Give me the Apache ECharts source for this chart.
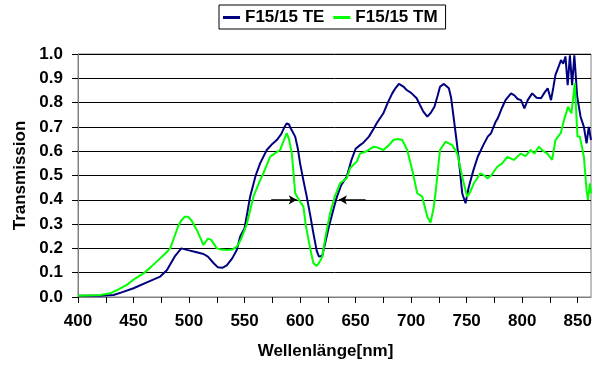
<!DOCTYPE html>
<html>
<head>
<meta charset="utf-8">
<script src="https://cdn.jsdelivr.net/npm/echarts@6/dist/echarts.min.js"></script>
<style>
  html, body { margin: 0; padding: 0; background: #fff; }
  #chart { width: 603px; height: 365px; }
</style>
</head>
<body>
<div id="chart"></div>
<script>
var seriesNames = ["F15/15 TE", "F15/15 TM"];

// [Wellenlänge nm, Transmission]
var teData = [
  [400, 0.005], [420, 0.005], [432, 0.008], [440, 0.02], [450, 0.036], [462, 0.06],
  [474, 0.084], [480, 0.11], [487, 0.166], [493, 0.2], [499, 0.193], [506, 0.185],
  [513, 0.177], [517, 0.166], [522, 0.14], [526, 0.122], [530, 0.12], [534, 0.13],
  [539, 0.16], [543, 0.193], [546, 0.248], [550, 0.283], [555, 0.413], [560, 0.5],
  [564, 0.55], [570, 0.605], [575, 0.63], [579, 0.646], [583, 0.67], [586, 0.7],
  [588, 0.715], [590, 0.71], [592, 0.69], [595.6, 0.66], [598, 0.61], [600, 0.55],
  [603, 0.48], [606, 0.413], [609, 0.34], [612, 0.262], [615, 0.19], [617, 0.166],
  [620, 0.17], [623, 0.23], [626, 0.29], [630, 0.36], [633, 0.41], [637, 0.46],
  [642, 0.495], [646, 0.56], [650, 0.61], [654, 0.625], [657, 0.635], [662, 0.66],
  [666, 0.69], [669, 0.715], [675, 0.756], [679, 0.8], [683, 0.838], [686, 0.86],
  [689, 0.877], [693, 0.866], [696, 0.852], [700, 0.84], [705, 0.818], [708, 0.79],
  [711, 0.763], [714.6, 0.742], [718, 0.76], [721, 0.783], [724, 0.83], [726, 0.865],
  [729.5, 0.877], [734, 0.859], [736, 0.82], [738.6, 0.728], [741, 0.64], [743, 0.564],
  [746, 0.427], [749, 0.386], [752, 0.454], [756, 0.52], [760, 0.577], [765, 0.625],
  [769, 0.66], [772, 0.674], [776, 0.72], [778, 0.735], [782, 0.78], [785, 0.81],
  [790, 0.838], [793, 0.83], [796, 0.815], [799, 0.81], [802, 0.776], [805, 0.81],
  [809, 0.838], [813, 0.82], [817, 0.818], [820, 0.84], [823, 0.859], [826, 0.81],
  [828, 0.86], [830, 0.914], [833, 0.95], [835, 0.975], [837, 0.96], [839, 0.99],
  [841, 0.872], [843, 0.995], [845, 0.872], [847, 0.995], [849.6, 0.824], [852.6, 0.742],
  [855.6, 0.7], [858, 0.632], [860, 0.7], [862, 0.646]
];

var tmData = [
  [400, 0.005], [420, 0.008], [429, 0.015], [436, 0.03], [444, 0.05], [451, 0.075],
  [459, 0.097], [466, 0.125], [474, 0.159], [479, 0.18], [483, 0.2], [487, 0.25],
  [490, 0.289], [493, 0.315], [496, 0.33], [499, 0.33], [502, 0.317], [507, 0.276],
  [510, 0.245], [513, 0.214], [517, 0.24], [520, 0.235], [525, 0.2], [529, 0.195],
  [534, 0.193], [539, 0.195], [543, 0.207], [547, 0.24], [552, 0.3], [558, 0.413],
  [563, 0.47], [567, 0.51], [573, 0.577], [577, 0.59], [582, 0.605], [585, 0.64],
  [588, 0.674], [590, 0.65], [592.6, 0.59], [595.6, 0.427], [600, 0.392], [603, 0.372],
  [605, 0.3], [607.6, 0.235], [610, 0.18], [612, 0.139], [615, 0.128], [617, 0.14],
  [620, 0.166], [623, 0.25], [627, 0.344], [631, 0.41], [636, 0.468], [642, 0.488],
  [645, 0.53], [651, 0.557], [654, 0.59], [660, 0.6], [666, 0.618], [670, 0.615],
  [675, 0.605], [680, 0.625], [684, 0.646], [688, 0.65], [692, 0.646], [696.5, 0.605],
  [701, 0.523], [705.5, 0.427], [710, 0.413], [714.6, 0.33], [717.5, 0.306], [720, 0.36],
  [722, 0.427], [726, 0.605], [731, 0.639], [737, 0.625], [741.6, 0.59], [746, 0.495],
  [750.5, 0.413], [753, 0.43], [756.5, 0.468], [762.5, 0.509], [766, 0.5], [768.6, 0.488],
  [772, 0.5], [777.6, 0.536], [782, 0.55], [786.6, 0.577], [792.6, 0.564], [798.6, 0.59],
  [803, 0.58], [807.7, 0.605], [811, 0.59], [815, 0.618], [819, 0.6], [822.7, 0.59],
  [827, 0.564], [830, 0.646], [834.7, 0.674], [837.7, 0.728], [841.3, 0.783], [844.4, 0.756],
  [847.4, 0.88], [849.8, 0.66], [852, 0.66], [855.6, 0.577], [858, 0.44], [859.3, 0.4],
  [861, 0.468], [862, 0.427]
];

var xLabelValues = [400, 450, 500, 550, 600, 650, 700, 750, 800, 850];
var xTickValues = [400, 425, 450, 475, 500, 525, 550, 575, 600, 625, 650, 675, 700,
  725, 750, 775, 800, 825, 850];

// arrows marking the two edges, [from, to] in data units
var arrowRight = [[574, 0.4], [597, 0.4]];
var arrowLeft = [[659, 0.4], [635, 0.4]];

var font = "Liberation Sans, Arial, sans-serif";

var chart = echarts.init(document.getElementById("chart"));

var option = {
  animation: false,
  backgroundColor: "#fff",
  textStyle: { fontFamily: font },
  legend: {
    data: seriesNames,
    left: 219,
    top: 5,
    padding: [4, 8, 3, 4],
    itemGap: 9,
    itemWidth: 17,
    itemHeight: 3,
    icon: "rect",
    borderColor: "#000",
    borderWidth: 1,
    textStyle: { fontSize: 17, fontWeight: "bold", color: "#000", fontFamily: font }
  },
  grid: {
    left: 78, right: 12, top: 54, bottom: 68,
    show: true, borderColor: "#808080", borderWidth: 1
  },
  xAxis: {
    type: "value",
    min: 400,
    max: 862,
    name: "Wellenlänge[nm]",
    nameLocation: "middle",
    nameGap: 46,
    nameTextStyle: { fontSize: 17, fontWeight: "bold", color: "#000", fontFamily: font, padding: [0, 18, 0, 0] },
    axisLine: { lineStyle: { color: "#808080", width: 1 } },
    axisTick: { show: true, length: 6, customValues: xTickValues, lineStyle: { color: "#000" } },
    axisLabel: { customValues: xLabelValues, margin: 16, fontSize: 17, fontWeight: "bold", color: "#000", fontFamily: font },
    splitLine: { show: false }
  },
  yAxis: {
    type: "value",
    min: 0,
    max: 1,
    interval: 0.1,
    name: "Transmission",
    nameLocation: "middle",
    nameGap: 46,
    nameTextStyle: { fontSize: 17, fontWeight: "bold", color: "#000", fontFamily: font },
    axisLine: { show: true, lineStyle: { color: "#808080", width: 1 } },
    axisTick: { show: true, length: 6, lineStyle: { color: "#000" } },
    axisLabel: {
      margin: 15, fontSize: 17, fontWeight: "bold", color: "#000", fontFamily: font,
      formatter: function (v) { return v.toFixed(1); }
    },
    splitLine: { show: true, lineStyle: { color: "#000", width: 1 } }
  },
  series: [
    {
      name: seriesNames[0],
      type: "line",
      data: teData,
      showSymbol: false,
      color: "#000080",
      lineStyle: { width: 2, color: "#000080" }
    },
    {
      name: seriesNames[1],
      type: "line",
      data: tmData,
      showSymbol: false,
      color: "#00ff00",
      lineStyle: { width: 2, color: "#00ff00" },
      markLine: {
        silent: true,
        symbol: ["none", "arrow"],
        symbolSize: [7, 8],
        label: { show: false },
        lineStyle: { color: "#000", width: 1.5, type: "solid" },
        data: [
          [{ coord: arrowRight[0] }, { coord: arrowRight[1] }],
          [{ coord: arrowLeft[0] }, { coord: arrowLeft[1] }]
        ]
      }
    }
  ]
};

option && chart.setOption(option);
</script>
</body>
</html>
